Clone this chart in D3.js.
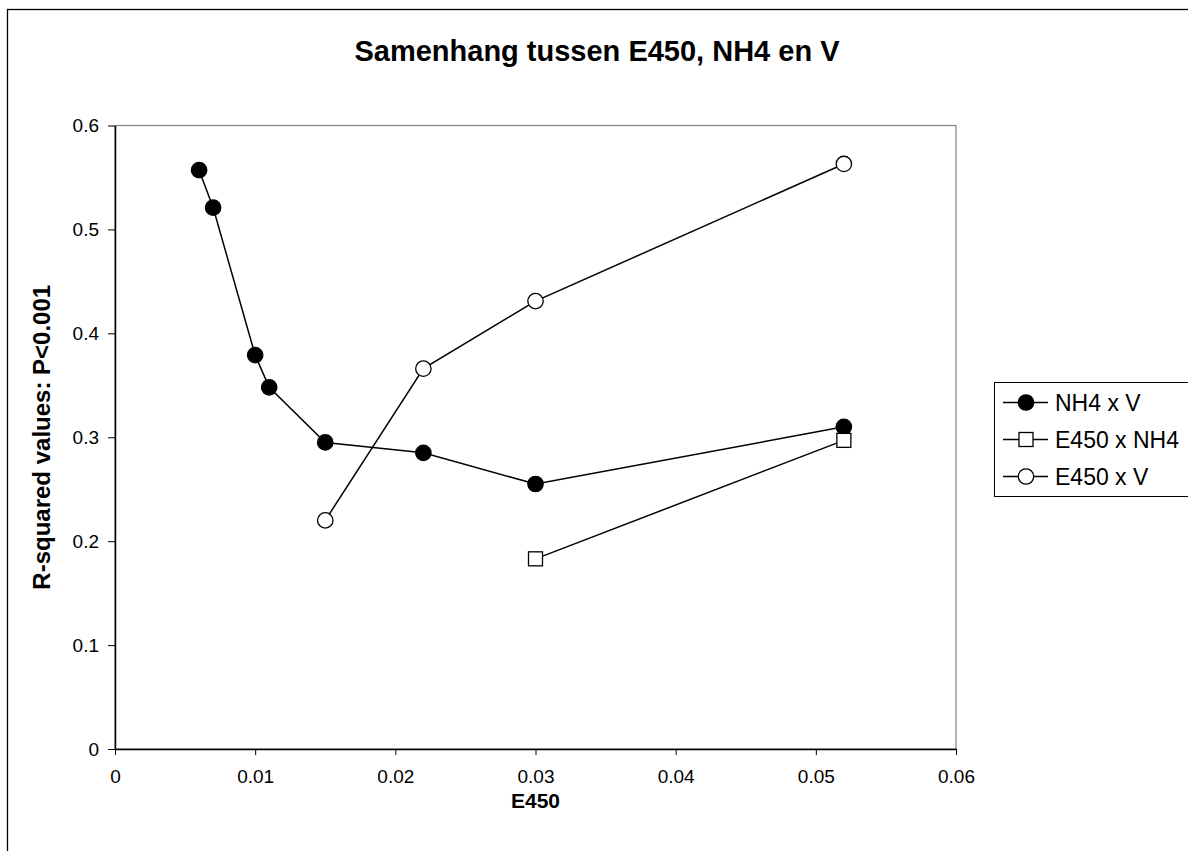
<!DOCTYPE html>
<html>
<head>
<meta charset="utf-8">
<script src="https://cdn.jsdelivr.net/npm/d3@7"></script>
<style>
    body { margin: 0; background: #fff; }
    svg { display: block; font-family: "Liberation Sans", Arial, sans-serif; }
    .axis path, .axis line { stroke: #000; }
    .axis text { font-size: 19px; fill: #000; }
</style>
</head>
<body>
<svg id="chart" width="1188" height="851"></svg>
<script>
// series data
const nh4vX = [0.006, 0.007, 0.010, 0.011, 0.015, 0.022, 0.030, 0.052];
const nh4vY = [0.557, 0.521, 0.379, 0.348, 0.295, 0.285, 0.255, 0.310];
const e450nh4X = [0.030, 0.052];
const e450nh4Y = [0.183, 0.297];
const e450vX = [0.015, 0.022, 0.030, 0.052];
const e450vY = [0.220, 0.366, 0.431, 0.563];
const xTicks = [0, 0.01, 0.02, 0.03, 0.04, 0.05, 0.06];
const yTicks = [0, 0.1, 0.2, 0.3, 0.4, 0.5, 0.6];
const seriesNames = ["NH4 x V", "E450 x NH4", "E450 x V"];

const series = [
    { name: seriesNames[0], x: nh4vX, y: nh4vY, marker: "dot" },
    { name: seriesNames[1], x: e450nh4X, y: e450nh4Y, marker: "square" },
    { name: seriesNames[2], x: e450vX, y: e450vY, marker: "circle" }
];

const svg = d3.select("#chart");
const plot = { left: 115, right: 956, top: 125.5, bottom: 749 };

// outer chart border (runs off the right and bottom edge)
svg.append("rect")
    .attr("x", 7.5).attr("y", 9.5)
    .attr("width", 1300).attr("height", 1000)
    .attr("fill", "none").attr("stroke", "#000").attr("stroke-width", 1.3);

const xScale = d3.scaleLinear().domain([0, 0.06]).range([plot.left, plot.right]);
const yScale = d3.scaleLinear().domain([0, 0.6]).range([plot.bottom, plot.top]);

// plot area frame
svg.append("rect")
    .attr("x", plot.left).attr("y", plot.top)
    .attr("width", plot.right - plot.left).attr("height", plot.bottom - plot.top)
    .attr("fill", "none").attr("stroke", "#808080").attr("stroke-width", 1.2);

// axes
svg.append("g")
    .attr("class", "x axis")
    .attr("transform", "translate(0," + plot.bottom + ")")
    .call(d3.axisBottom(xScale).tickValues(xTicks).tickSize(6).tickSizeOuter(0).tickPadding(15)
        .tickFormat(function(d) { return d === 0 ? "0" : d3.format(".2f")(d); }));
svg.append("g")
    .attr("class", "y axis")
    .attr("transform", "translate(" + plot.left + ",0)")
    .call(d3.axisLeft(yScale).tickValues(yTicks).tickSize(7).tickSizeOuter(0).tickPadding(9)
        .tickFormat(function(d) { return d === 0 ? "0" : d3.format(".1f")(d); }));
svg.selectAll(".axis path").attr("stroke-width", 1.5);
svg.selectAll(".axis line").attr("stroke", "#444");

// titles
svg.append("text")
    .attr("x", 597).attr("y", 61)
    .attr("text-anchor", "middle")
    .style("font-size", "29px").style("font-weight", "bold")
    .text("Samenhang tussen E450, NH4 en V");
svg.append("text")
    .attr("x", (plot.left + plot.right) / 2).attr("y", 808)
    .attr("text-anchor", "middle")
    .style("font-size", "21px").style("font-weight", "bold")
    .text("E450");
svg.append("text")
    .attr("transform", "translate(50," + ((plot.top + plot.bottom) / 2) + ") rotate(-90)")
    .attr("text-anchor", "middle")
    .style("font-size", "24px").style("font-weight", "bold")
    .text("R-squared values: P<0.001");

function drawMarker(g, type, cx, cy) {
    if (type === "square") {
        g.append("rect")
            .attr("x", cx - 7).attr("y", cy - 7).attr("width", 14).attr("height", 14)
            .attr("fill", "#fff").attr("stroke", "#000").attr("stroke-width", 1.3);
    } else {
        g.append("circle")
            .attr("cx", cx).attr("cy", cy).attr("r", 7.7)
            .attr("fill", type === "dot" ? "#000" : "#fff")
            .attr("stroke", "#000").attr("stroke-width", 1.3);
    }
}

// lines + markers
const line = d3.line()
    .x(function(d) { return xScale(d[0]); })
    .y(function(d) { return yScale(d[1]); });

series.forEach(function(s) {
    const pts = s.x.map(function(v, i) { return [v, s.y[i]]; });
    svg.append("path")
        .datum(pts)
        .attr("d", line)
        .attr("fill", "none").attr("stroke", "#000").attr("stroke-width", 1.5);
});
series.forEach(function(s) {
    const g = svg.append("g");
    s.x.forEach(function(v, i) {
        drawMarker(g, s.marker, xScale(v), yScale(s.y[i]));
    });
});

// legend
const legend = svg.append("g").attr("transform", "translate(994,382)");
legend.append("rect")
    .attr("x", 0.5).attr("y", 0.5).attr("width", 300).attr("height", 114)
    .attr("fill", "#fff").attr("stroke", "#000").attr("stroke-width", 1);
series.forEach(function(s, i) {
    const cy = 20.5 + i * 37;
    legend.append("line")
        .attr("x1", 9).attr("x2", 54).attr("y1", cy).attr("y2", cy)
        .attr("stroke", "#000").attr("stroke-width", 1.5);
    drawMarker(legend, s.marker, 32, cy);
    legend.append("text")
        .attr("x", 61).attr("y", cy + 8)
        .style("font-size", "23px")
        .text(s.name);
});
</script>
</body>
</html>
